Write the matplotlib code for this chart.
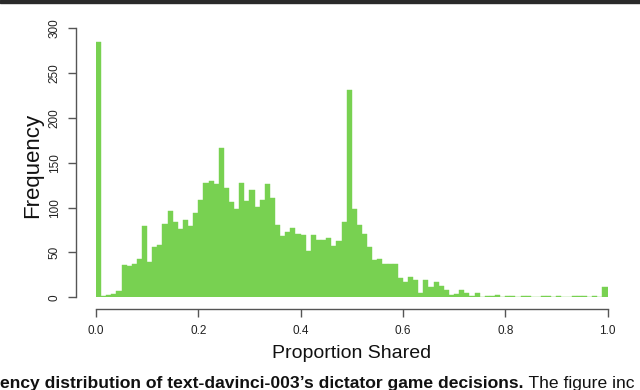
import matplotlib
matplotlib.use("Agg")
import matplotlib.pyplot as plt
import numpy as np
from matplotlib.patches import Rectangle

# ---- data (100 bins on [0, 1]) ----
counts = [285, 1, 3, 4, 7, 36, 35, 37, 43, 80,
          39, 56, 58, 82, 96, 84, 76, 86, 79, 94,
          109, 128, 130, 126, 167, 122, 106, 98, 127, 107,
          120, 101, 109, 126, 111, 81, 68, 73, 77, 71,
          69, 52, 69, 64, 64, 66, 57, 63, 84, 231,
          98, 81, 71, 56, 42, 43, 37, 37, 37, 21,
          17, 23, 19, 5, 19, 12, 17, 13, 8, 3,
          4, 8, 5, 2, 5, 0, 1, 1, 3, 0,
          1, 1, 0, 1, 2, 0, 0, 1, 1, 0,
          1, 0, 0, 1, 1, 1, 0, 1, 0, 12]
bin_edges = np.linspace(0.0, 1.0, 101)
bin_centers = (bin_edges[:-1] + bin_edges[1:]) / 2

x_ticks = [0.0, 0.2, 0.4, 0.6, 0.8, 1.0]
x_tick_labels = ["0.0", "0.2", "0.4", "0.6", "0.8", "1.0"]
y_ticks = [0, 50, 100, 150, 200, 250, 300]
y_tick_labels = ["0", "50", "100", "150", "200", "250", "300"]

x_title = "Proportion Shared"
y_title = "Frequency"
caption_bold = "ency distribution of text-davinci-003\u2019s dictator game decisions."
caption_rest = " The figure inc"

# ---- style ----
plt.rcParams["font.family"] = ["Liberation Sans", "DejaVu Sans"]
W, H = 640, 390
bar_color = "#78D151"
axis_color = "#555555"

fig = plt.figure(figsize=(W / 100, H / 100), dpi=100)
ax = fig.add_axes([96 / W, (H - 297.3) / H, 511.5 / W, 269 / H])

ax.hist(bin_centers, bins=bin_edges, weights=counts,
        color=bar_color, edgecolor=bar_color, linewidth=0.3)
ax.set_xlim(0, 1)
ax.set_ylim(0, 300)

for s in ["top", "right"]:
    ax.spines[s].set_visible(False)
ax.spines["left"].set_position(("outward", 20 * 0.72))
ax.spines["bottom"].set_position(("outward", 12 * 0.72))
ax.spines["left"].set_bounds(0, 300)
ax.spines["bottom"].set_bounds(0, 1)
for s in ["left", "bottom"]:
    ax.spines[s].set_color(axis_color)
    ax.spines[s].set_linewidth(1.0)

ax.set_xticks(x_ticks)
ax.set_xticklabels(x_tick_labels)
ax.set_yticks(y_ticks)
ax.set_yticklabels(y_tick_labels, rotation=90, va="center")
ax.tick_params(axis="both", direction="out", length=6, width=1.0,
               color=axis_color, labelsize=8.5, labelcolor="#222222")
ax.tick_params(axis="x", pad=5)
ax.tick_params(axis="y", pad=5)

fig.text(352 / W, 1 - 354 / H, x_title, ha="center", va="center",
         fontsize=14, color="#111111")
fig.text(33 / W, 1 - 165 / H, y_title, ha="center", va="center",
         rotation=90, fontsize=16, color="#111111")

# top dark strip
fig.patches.append(Rectangle((0, 1 - 3 / H), 1, 3 / H,
                             transform=fig.transFigure, color="#2a2a2a"))

# cut caption at the bottom
t1 = fig.text(0, 1 - 388 / H, caption_bold, ha="left", va="baseline",
              fontsize=12.6, fontweight="bold", color="#111111")
fig.canvas.draw()
bb = t1.get_window_extent(renderer=fig.canvas.get_renderer())
fig.text(bb.x1 / W, 1 - 388 / H, caption_rest, ha="left", va="baseline",
         fontsize=12.6, color="#111111")

fig.savefig("out.png", dpi=100)
